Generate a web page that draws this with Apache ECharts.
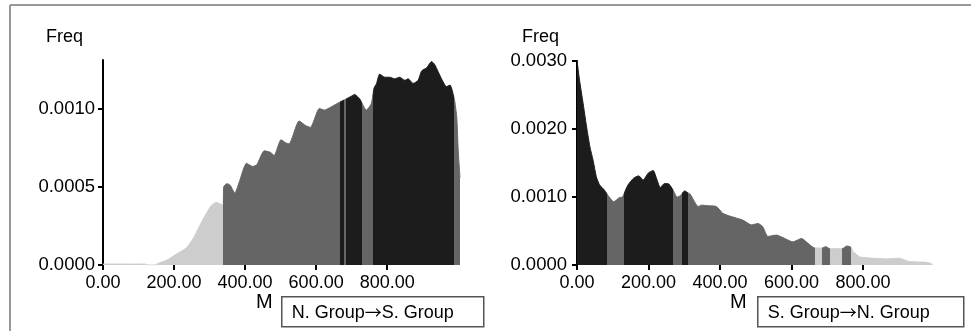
<!DOCTYPE html>
<html>
<head>
<meta charset="utf-8">
<script src="https://cdn.jsdelivr.net/npm/echarts@6/dist/echarts.min.js"></script>
<style>
  html, body { margin: 0; padding: 0; background: #ffffff; }
  #chart { width: 971px; height: 331px; }
</style>
</head>
<body>
<div id="chart"></div>
<script>
// Shades used for the posterior bands
const LIGHT = '#cdcdcd';
const MID = '#656565';
const DARK = '#1c1c1c';

// ---- N. Group -> S. Group ----
const nsM = [0, 60, 118, 128, 146, 155, 179, 207, 235, 254, 272, 291, 305, 319, 331, 337,
  340, 349, 358, 371, 385, 404, 421, 433, 454, 471, 482, 501, 515, 524, 552, 571, 584,
  609, 623, 642, 666, 684, 700, 708, 723, 730, 741, 755, 763, 770, 779, 793, 807, 821,
  835, 850, 859, 873, 887, 897, 911, 925, 934, 953, 967, 977, 986, 990, 996, 1000, 1005];
const nsFreq = [0.000006, 0.000006, 0.000006, 0, 0, 0.00001, 0.00003, 0.00007, 0.00011,
  0.00017, 0.00025, 0.00033, 0.00038, 0.0004, 0.00039, 0.00038,
  0.0005, 0.00052, 0.00051, 0.00046, 0.00054, 0.00065, 0.00063, 0.00064, 0.00073, 0.00072,
  0.0007, 0.0008, 0.00078, 0.000775, 0.00092, 0.00089, 0.00088,
  0.001, 0.00099, 0.00101, 0.00104, 0.00106, 0.00108, 0.00109, 0.00106, 0.00103, 0.00099,
  0.00103, 0.00113, 0.00116, 0.00122, 0.0012, 0.0012, 0.00119,
  0.0012, 0.00118, 0.00119, 0.00116, 0.00118, 0.00124, 0.00126, 0.0013, 0.00128, 0.00119,
  0.00114, 0.00115, 0.00109, 0.00105, 0.00094, 0.00073, 0.00056];
const nsEdges = [0, 339, 668, 678, 684, 730, 760, 988, 1010];
const nsShades = [LIGHT, MID, DARK, MID, DARK, MID, DARK, MID];

// ---- S. Group -> N. Group ----
const snM = [0, 7, 17, 26, 36, 45, 54, 63, 77, 90, 103, 118, 127, 134, 143, 157, 171, 176,
  185, 199, 213, 224, 233, 245, 257, 269, 280, 289, 301, 311, 317, 339, 348, 371, 390, 408,
  427, 446, 464, 488, 506, 520, 534, 558, 581, 604, 628, 646, 665, 685, 696, 707, 742, 755,
  767, 772, 791, 800, 828, 865, 901, 930, 977, 991, 995];
const snFreq = [0.00301, 0.00272, 0.00238, 0.00206, 0.00174, 0.00154, 0.0013, 0.00118,
  0.0011, 0.001, 0.00093, 0.00099, 0.001, 0.00108, 0.00118, 0.00127, 0.00131, 0.0013,
  0.00125, 0.00135, 0.00139, 0.00125, 0.00114, 0.0012, 0.00119, 0.0011, 0.001, 0.00102,
  0.00109, 0.00106, 0.00104, 0.00086, 0.00088, 0.00087, 0.00086, 0.00076,
  0.00072, 0.00069, 0.00066, 0.00059, 0.00061, 0.00056, 0.00042, 0.00044, 0.00039, 0.00034,
  0.00039, 0.00032, 0.00025, 0.00025, 0.00027, 0.00024, 0.00024, 0.00028,
  0.00026, 0.0002, 0.00012, 0.00011, 0.0001, 0.00009, 0.0001, 0.00005, 0.00004, 0.00002, 0];
const snEdges = [0, 84, 132, 269, 295, 311, 665, 685, 707, 742, 767, 1010];
const snShades = [DARK, MID, DARK, MID, DARK, MID, LIGHT, MID, LIGHT, MID, LIGHT];

// Axis ticks
const xTicks = [0, 200, 400, 600, 800];
const nsYTicks = [0, 0.0005, 0.001];
const snYTicks = [0, 0.001, 0.002, 0.003];

const FONT = 'Liberation Sans, Arial, sans-serif';
const ARROW_FONT = 'Noto Sans CJK SC, DejaVu Sans, sans-serif';

function zip(xs, ys) { return xs.map((x, i) => [x, ys[i]]); }
function bands(edges, shades) {
  return shades.map((c, i) => ({ gte: edges[i], lt: edges[i + 1], color: c }));
}

function xAxis(gridIndex, max) {
  return {
    type: 'value', gridIndex, min: 0, max,
    axisLine: { show: false },
    axisTick: { show: true, length: 5, customValues: xTicks, lineStyle: { color: '#000', width: 2 } },
    axisLabel: { customValues: xTicks, formatter: v => v.toFixed(2), color: '#000',
      fontSize: 18, fontFamily: FONT, margin: 9 },
    splitLine: { show: false }
  };
}
function yAxis(gridIndex, max, ticks, margin) {
  return {
    type: 'value', gridIndex, min: 0, max,
    axisLine: { show: true, lineStyle: { color: '#000', width: 2 } },
    axisTick: { show: true, length: 5, customValues: ticks, lineStyle: { color: '#000', width: 2 } },
    axisLabel: { customValues: ticks, formatter: v => v.toFixed(4), color: '#000',
      fontSize: 18.5, fontFamily: FONT, margin },
    splitLine: { show: false }
  };
}
function areaSeries(idx, data) {
  return {
    type: 'line', xAxisIndex: idx, yAxisIndex: idx, data,
    symbol: 'none', smooth: 0.2,
    lineStyle: { width: 1 },
    areaStyle: { opacity: 1 },
    z: 1
  };
}
function legendBox(x, y, w, h, from, to) {
  return {
    type: 'group', left: x, top: y,
    children: [
      { type: 'rect', shape: { x: 0, y: 0, width: w, height: h },
        style: { fill: '#fff', stroke: '#555', lineWidth: 1.5 } },
      { type: 'text', x: 10, y: h / 2 + 1,
        style: {
          text: '{a|' + from + '}{b|\u2192}{a|' + to + '}',
          verticalAlign: 'middle',
          rich: {
            a: { fontSize: 18, fontFamily: FONT, fill: '#000' },
            b: { fontSize: 17, fontFamily: ARROW_FONT, fill: '#000' }
          }
        } }
    ]
  };
}

const chart = echarts.init(document.getElementById('chart'), null, { renderer: 'canvas' });
chart.setOption({
  animation: false,
  backgroundColor: '#fff',
  grid: [
    { left: 103, top: 60, width: 357, height: 205 },
    { left: 577, top: 61, width: 357.5, height: 204 }
  ],
  xAxis: [xAxis(0, 1005), xAxis(1, 1000)],
  yAxis: [yAxis(0, 0.00131, nsYTicks, 8), yAxis(1, 0.003, snYTicks, 10)],
  visualMap: [
    { type: 'piecewise', show: false, seriesIndex: 0, dimension: 0, pieces: bands(nsEdges, nsShades) },
    { type: 'piecewise', show: false, seriesIndex: 1, dimension: 0, pieces: bands(snEdges, snShades) }
  ],
  series: [areaSeries(0, zip(nsM, nsFreq)), areaSeries(1, zip(snM, snFreq))],
  graphic: [
    { type: 'line', shape: { x1: 10, y1: 5, x2: 971, y2: 5 }, style: { stroke: '#777', lineWidth: 1.5 } },
    { type: 'line', shape: { x1: 10, y1: 5, x2: 10, y2: 331 }, style: { stroke: '#777', lineWidth: 1.5 } },
    { type: 'text', left: 46, top: 28, style: { text: 'Freq', fill: '#000', font: '18px ' + FONT } },
    { type: 'text', left: 522, top: 28, style: { text: 'Freq', fill: '#000', font: '18px ' + FONT } },
    { type: 'text', left: 256, top: 292, style: { text: 'M', fill: '#000', font: '20px ' + FONT } },
    { type: 'text', left: 730, top: 292, style: { text: 'M', fill: '#000', font: '20px ' + FONT } },
    legendBox(281, 296, 202, 30, 'N. Group', 'S. Group'),
    legendBox(757, 296, 206, 30, 'S. Group', 'N. Group')
  ]
});
</script>
</body>
</html>
